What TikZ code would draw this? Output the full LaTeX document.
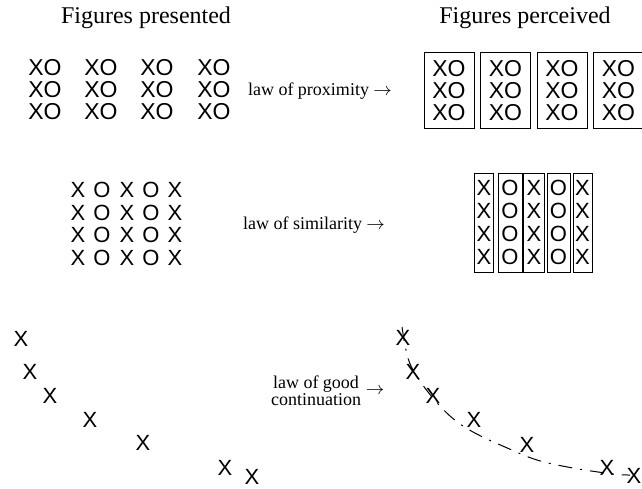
\documentclass[tikz,border=0pt]{standalone}
\usepackage{fontspec}
\setmainfont{Liberation Serif}
\newfontfamily\xofont{Liberation Sans}
\usetikzlibrary{positioning}

\begin{document}
\begin{tikzpicture}[
    x=0.5pt, y=-0.5pt,
    heading/.style={font=\fontsize{12}{14}\selectfont, inner sep=0pt},
    lawlabel/.style={font=\fontsize{9}{8.5}\selectfont, align=center, inner sep=0pt},
    xogroup/.style={font=\xofont\fontsize{11.5}{11}\selectfont, align=center, inner sep=0pt},
    xobox/.style={xogroup, draw=black, line width=0.5pt, minimum width=25pt, minimum height=38pt},
    column/.style={font=\xofont\fontsize{11}{11.4}\selectfont, align=center, inner sep=0pt},
    colbox/.style={column, draw=black, line width=0.5pt, minimum height=49.5pt},
    letter/.style={font=\xofont\fontsize{11}{13}\selectfont, inner sep=0pt},
    trail/.style={line width=0.5pt, dash pattern=on 7pt off 4pt on 1pt off 4pt}
]
\useasboundingbox (0,0) rectangle (642,488);

% Headings
\node[heading] (presented) at (146,18) {Figures presented};
\node[heading] (perceived) at (525,18) {Figures perceived};

% Proximity
\foreach \i/\x in {1/45,2/101,3/157,4/214}
    \node[xogroup] (prox\i) at (\x,90) {XO\\XO\\XO};
\node[lawlabel] (proxlaw) at (320,91) {law of proximity $\rightarrow$};
\foreach \i/\x in {1/449,2/505.5,3/562,4/618.5}
    \node[xobox] (proxbox\i) at (\x,90.5) {XO\\XO\\XO};

% Similarity
\foreach \i/\x/\c in {1/78/X,2/102/O,3/127/X,4/151/O,5/175/X}
    \node[column] (sim\i) at (\x,224) {\c\\\c\\\c\\\c};
\node[lawlabel] (simlaw) at (314,225) {law of similarity $\rightarrow$};
\foreach \i/\x/\c/\w in {1/484/X/9.5pt,2/510/O/12pt,3/534/X/10.5pt,4/558.5/O/11.5pt,5/582.5/X/9.5pt}
    \node[colbox, minimum width=\w] (simbox\i) at (\x,222.5) {\c\\\c\\\c\\\c};

% Good continuation
\foreach \i/\x/\y in {1/21/339,2/30/372,3/50/396,4/90/420,5/143/443,6/225/468,7/252/477}
    \node[letter] (contl\i) at (\x,\y) {X};
\node[lawlabel] (contlaw) at (316,391) {law of good\\continuation};
\node[lawlabel, right=2pt of contlaw] (contarrow) {$\rightarrow$};
\foreach \i/\x/\y in {1/403/338,2/413/372,3/433/396,4/474/420,5/527/445,6/607/468,7/634/476}
    \node[letter] (contr\i) at (\x,\y) {X};
\draw[trail] plot[smooth, tension=0.6] coordinates {(402,327) (406,350) (412,368) (428,392) (450,416) (473,432) (505,447) (537,460) (573,468) (613,474) (630,475)};

\end{tikzpicture}
\end{document}
